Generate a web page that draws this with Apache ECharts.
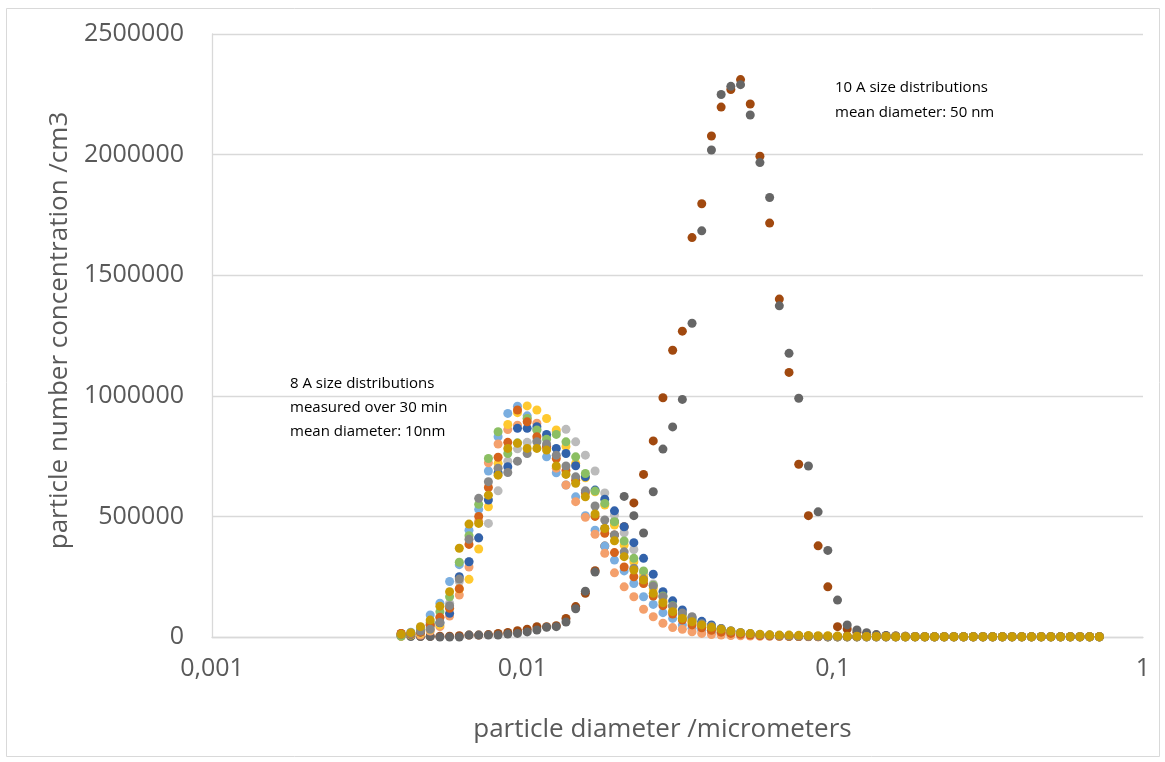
<!DOCTYPE html>
<html>
<head>
<meta charset="utf-8">
<script src="https://cdn.jsdelivr.net/npm/echarts@6/dist/echarts.min.js"></script>
<style>
html,body{margin:0;padding:0;background:#fff;}
#chart{width:1165px;height:762px;}
</style>
</head>
<body>
<div id="chart"></div>
<script>
// particle diameters (micrometers), 32 channels per decade (73 channels)
const diameters = [
0.004068,0.004371,0.004697,0.005048,0.005425,0.005829,0.006264,0.006732,0.007234,0.007774,0.008354,0.008977,0.009647,
0.010366,0.011140,0.011971,0.012864,0.013824,0.014855,0.015963,0.017154,0.018434,0.019810,0.021287,
0.022875,0.024582,0.026416,0.028387,0.030505,0.032781,0.035227,0.037855,0.040679,0.043714,0.046976,
0.050480,0.054247,0.058294,0.062643,0.067317,0.072339,0.077736,0.083536,0.089768,0.096466,
0.103663,0.11140,0.11971,0.12864,0.13824,0.14855,0.15963,0.17154,0.18434,0.19810,
0.21287,0.22875,0.24582,0.26416,0.28387,0.30505,0.32781,0.35227,0.37855,0.40679,
0.43714,0.46976,0.50480,0.54247,0.58294,0.62643,0.67317,0.72339
];

// 10 A distributions (mean diameter 50 nm)
const big1 = [
15000,5000,3000,3000,3000,3000,5000,8000,8000,10000,15000,19000,26000,
32000,43000,43000,47000,77000,126000,181000,275000,377000,423000,457000,556000,674000,813000,992000,1189000,1268000,1656000,1796000,2077000,2197000,
2270000,2311000,2210000,1993000,1716000,1401000,1097000,716000,503000,378000, 208000,43000,33000,20000,12000,8000,5000,4000,3000,2000,
1000,1000,1000,1000,1000,1000,1000,1000,1000,1000, 1000,1000,1000,1000,1000,1000,1000,1000,1000
];
const big2 = [
3000,2000,2000,2000,0,0,0,8000,8000,8000,8000,12000,15000,
21000,29000,40000,43000,62000,117000,190000,269000,450000,478000,583000,503000,431000,602000,779000,871000,985000,1301000,1684000,2019000,2249000,
2283000,2290000,2164000,1967000,1822000,1373000,1176000,990000,709000,519000, 359000,153000,50000,29000,18000,10000,6000,4000,3000,2000,
1000,1000,1000,1000,1000,1000,1000,1000,1000,1000, 1000,1000,1000,1000,1000,1000,1000,1000,1000
];

// 8 A distributions (mean diameter 10 nm)
const s1 = [
8000,20000,40000,91000,140000,230000,300000,443000,529000,688000,830000,927000,957000,
917000,860000,747000,681000,630000,581000,503000,443000,377000,319000,274000,222000,167000,135000,101000,77000,50000,36000,28000,20000,15000,
12000,9000,7000,5000,4000,3000,3000,2000,2000,2000, 1000,1000,1000,1000,1000,1000,1000,1000,1000,1000,
1000,1000,1000,1000,1000,1000,1000,1000,1000,1000, 1000,1000,1000,1000,1000,1000,1000,1000,1000
];
const s2 = [
5000,10000,8000,25000,43000,87000,174000,290000,480000,722000,800000,860000,878000,
905000,886000,790000,700000,630000,561000,496000,426000,347000,266000,208000,167000,115000,84000,57000,39000,32000,22000,15000,10000,8000,
6000,5000,4000,3000,3000,2000,2000,2000,1000,1000, 1000,1000,1000,1000,1000,1000,1000,1000,1000,1000,
1000,1000,1000,1000,1000,1000,1000,1000,1000,1000, 1000,1000,1000,1000,1000,1000,1000,1000,1000
];
const s3 = [
5000,10000,20000,40000,80000,140000,230000,312000,410000,471000,606000,729000,780000,
807000,816000,830000,850000,861000,809000,754000,688000,597000,506000,432000,363000,265000,220000,170000,130000,95000,70000,55000,40000,30000,
22000,16000,12000,9000,7000,5000,4000,3000,2000,2000, 1000,1000,1000,1000,1000,1000,1000,1000,1000,1000,
1000,1000,1000,1000,1000,1000,1000,1000,1000,1000, 1000,1000,1000,1000,1000,1000,1000,1000,1000
];
const s4 = [
3000,8000,15000,30000,50000,120000,199000,239000,365000,540000,720000,881000,930000,
958000,941000,906000,858000,790000,720000,660000,602000,547000,464000,381000,312000,250000,200000,150000,110000,80000,60000,45000,35000,25000,
18000,14000,10000,8000,6000,5000,4000,3000,2000,2000, 1000,1000,1000,1000,1000,1000,1000,1000,1000,1000,
1000,1000,1000,1000,1000,1000,1000,1000,1000,1000, 1000,1000,1000,1000,1000,1000,1000,1000,1000
];
const s5 = [
5000,10000,20000,50000,59000,98000,250000,312000,411000,568000,681000,706000,865000,
865000,872000,840000,782000,761000,710000,664000,609000,571000,523000,457000,391000,326000,260000,188000,150000,112000,80000,65000,50000,35000,
25000,18000,13000,9000,7000,5000,4000,3000,2000,2000, 1000,1000,1000,1000,1000,1000,1000,1000,1000,1000,
1000,1000,1000,1000,1000,1000,1000,1000,1000,1000, 1000,1000,1000,1000,1000,1000,1000,1000,1000
];
const s6 = [
4000,12000,30000,60000,105000,167000,310000,420000,550000,740000,851000,761000,805000,
906000,858000,820000,840000,809000,747000,678000,605000,554000,478000,398000,326000,274000,215000,170000,130000,95000,70000,50000,40000,30000,
22000,16000,12000,9000,7000,5000,4000,3000,2000,2000, 1000,1000,1000,1000,1000,1000,1000,1000,1000,1000,
1000,1000,1000,1000,1000,1000,1000,1000,1000,1000, 1000,1000,1000,1000,1000,1000,1000,1000,1000
];
const s7 = [
15000,12000,20000,50000,82000,119000,200000,384000,500000,620000,745000,807000,941000,
892000,830000,789000,740000,690000,650000,598000,500000,430000,350000,290000,250000,222000,170000,130000,95000,70000,50000,38000,28000,20000,
15000,11000,8000,6000,5000,4000,3000,2000,2000,1000, 1000,1000,1000,1000,1000,1000,1000,1000,1000,1000,
1000,1000,1000,1000,1000,1000,1000,1000,1000,1000, 1000,1000,1000,1000,1000,1000,1000,1000,1000
];
const s8 = [
10000,15000,25000,32000,60000,130000,240000,405000,575000,644000,700000,682000,729000,
761000,809000,800000,754000,709000,664000,606000,543000,485000,423000,353000,285000,240000,211000,167000,128000,100000,84000,55000,45000,35000,
25000,18000,14000,10000,8000,6000,5000,4000,3000,2000, 1000,1000,1000,1000,1000,1000,1000,1000,1000,1000,
1000,1000,1000,1000,1000,1000,1000,1000,1000,1000, 1000,1000,1000,1000,1000,1000,1000,1000,1000
];
const s9 = [
11000,18000,43000,70000,128000,188000,368000,468000,471000,588000,671000,782000,803000,
782000,782000,775000,709000,674000,637000,581000,510000,450000,399000,333000,278000,236000,181000,142000,105000,77000,63000,50000,40000,32000,
25000,18000,14000,11000,9000,8000,8000,7000,6000,5000, 5000,4000,3000,3000,2000,2000,2000,1000,1000,1000,
1000,1000,1000,1000,1000,1000,1000,1000,1000,1000, 1000,1000,1000,1000,1000,1000,1000,1000,1000
];

const xTickLabels = {'0.001':'0,001','0.01':'0,01','0.1':'0,1','1':'1'};

const seriesDefs = [
  {name:'10 A #1', data:big1, color:'#A1490F'},
  {name:'10 A #2', data:big2, color:'#666666'},
  {name:'8 A #1', data:s1, color:'#7AAEE0'},
  {name:'8 A #2', data:s2, color:'#F4A06C'},
  {name:'8 A #3', data:s3, color:'#BBBBBB'},
  {name:'8 A #4', data:s4, color:'#FFC930'},
  {name:'8 A #5', data:s5, color:'#3262AA'},
  {name:'8 A #6', data:s6, color:'#8BBF63'},
  {name:'8 A #7', data:s7, color:'#D5631B'},
  {name:'8 A #8', data:s8, color:'#878787'},
  {name:'8 A #9', data:s9, color:'#C99C06'}
];

const chart = echarts.init(document.getElementById('chart'), null, {renderer:'canvas'});
const textColor = '#595959';
const fontFam = '"Open Sans", "DejaVu Sans", sans-serif';

chart.setOption({
  animation:false,
  backgroundColor:'#ffffff',
  grid:{left:212, right:22, top:34, bottom:125},
  xAxis:{
    type:'log', logBase:10, min:0.001, max:1,
    name:'particle diameter /micrometers', nameLocation:'middle', nameGap:80,
    nameTextStyle:{color:textColor, fontSize:26, fontFamily:fontFam, padding:[0,30,0,0]},
    axisLine:{show:true, onZero:false, lineStyle:{color:'#d9d9d9', width:1.3}},
    axisTick:{show:false},
    splitLine:{show:false},
    minorSplitLine:{show:false},
    axisLabel:{color:textColor, fontSize:25, fontFamily:fontFam, margin:19,
      formatter:function(v){ const k = String(+(+v).toPrecision(6)); return xTickLabels[k] !== undefined ? xTickLabels[k] : k.replace('.',','); }}
  },
  yAxis:{
    type:'value', min:0, max:2500000, interval:500000,
    name:'particle number concentration /cm3', nameLocation:'middle', nameGap:117,
    nameTextStyle:{color:textColor, fontSize:26, fontFamily:fontFam, padding:[0,0,0,10]},
    axisLine:{show:true, lineStyle:{color:'#d9d9d9', width:1.3}},
    axisTick:{show:false},
    splitLine:{show:true, lineStyle:{color:'#d9d9d9', width:1.3}},
    axisLabel:{color:textColor, fontSize:25, fontFamily:fontFam, margin:28,
      formatter:function(v){ return String(v); }}
  },
  graphic:[
    {type:'rect', z:-10, shape:{x:6.5, y:8.5, width:1153, height:748}, style:{fill:'none', stroke:'#d9d9d9', lineWidth:1}},
    {type:'text', left:835, top:75, style:{text:'10 A size distributions\nmean diameter: 50 nm', fill:'#000', font:'15px "Open Sans", sans-serif', lineHeight:25}},
    {type:'text', left:290, top:372, style:{text:'8 A size distributions\nmeasured over 30 min\nmean diameter: 10nm', fill:'#000', font:'15px "Open Sans", sans-serif', lineHeight:24}}
  ],
  series: seriesDefs.map(function(s){
    return {
      name:s.name, type:'scatter', symbol:'circle', symbolSize:9,
      itemStyle:{color:s.color, opacity:1},
      emphasis:{disabled:true},
      data: diameters.map(function(d,i){ return [d, s.data[i]]; })
    };
  })
});
</script>
</body>
</html>
